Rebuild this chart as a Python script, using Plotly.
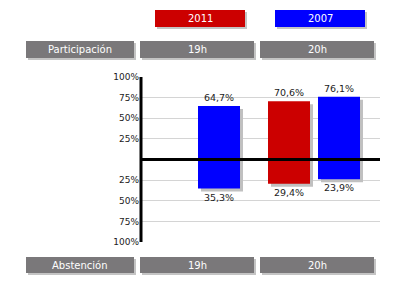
import plotly.graph_objects as go

categories = ["19h", "20h"]
series_names = ["2011", "2007"]
participacion_2011 = [None, 70.6]
abstencion_2011 = [None, 29.4]
participacion_2007 = [64.7, 76.1]
abstencion_2007 = [35.3, 23.9]
tick_values = [100, 75, 50, 25, -25, -50, -75, -100]
tick_labels = ["100%", "75%", "50%", "25%", "25%", "50%", "75%", "100%"]
row_labels = ["Participación", "Abstención"]

colors = {"2011": "#cc0000", "2007": "#0000ff"}
W, H = 400, 300
ML, MR, MT, MB = 140, 20, 77, 58
PW, PH = W - ML - MR, H - MT - MB

px_x = 1.0 / 120  # category units per pixel (240px / 2 categories)
px_y = 200.0 / PH  # data units per pixel
bar_w = 42 * px_x
offsets = {"2011": -25 * px_x - bar_w / 2, "2007": 25 * px_x - bar_w / 2}

def fmt(v):
    return None if v is None else ("%.1f%%" % v).replace(".", ",")

fig = go.Figure()
series = {"2011": (participacion_2011, abstencion_2011), "2007": (participacion_2007, abstencion_2007)}

# shadows
for name in series_names:
    part, abst = series[name]
    for vals, sign in ((part, 1), (abst, -1)):
        ys = [None if v is None else sign * v - 3 * px_y for v in vals]
        fig.add_trace(go.Bar(x=categories, y=ys, base=0, width=bar_w,
                             offset=offsets[name] + 3 * px_x,
                             marker=dict(color="#c0c0c0", line=dict(width=0)),
                             hoverinfo="skip", showlegend=False))
# bars
for name in series_names:
    part, abst = series[name]
    for vals, sign in ((part, 1), (abst, -1)):
        ys = [None if v is None else sign * v for v in vals]
        fig.add_trace(go.Bar(x=categories, y=ys, width=bar_w, offset=offsets[name],
                             marker=dict(color=colors[name], line=dict(width=0)),
                             text=[fmt(v) for v in vals], textposition="outside",
                             textfont=dict(family="DejaVu Sans", size=9.5, color="#222222"),
                             cliponaxis=False, name=name, showlegend=False))

fig.update_layout(
    width=W, height=H, margin=dict(l=ML, r=MR, t=MT, b=MB),
    paper_bgcolor="white", plot_bgcolor="white", barmode="overlay",
    xaxis=dict(type="category", range=[-0.45, 1.55], showticklabels=False,
               showgrid=False, zeroline=False, showline=False),
    yaxis=dict(range=[-100, 100], tickvals=tick_values, ticktext=tick_labels,
               showgrid=True, gridcolor="#d4d4d4", gridwidth=1, zeroline=False,
               showline=False, ticks="", ticklabelstandoff=0,
               tickfont=dict(family="DejaVu Sans", size=9, color="#222222")),
    font=dict(family="DejaVu Sans"),
)

# zero line and vertical axis line on top
fig.add_shape(type="line", xref="paper", yref="y", x0=0, x1=1, y0=0, y1=0,
              line=dict(color="black", width=3), layer="above")
fig.add_shape(type="line", xref="paper", yref="paper", x0=1.0 / PW, x1=1.0 / PW, y0=0, y1=1,
              line=dict(color="black", width=3), layer="above")

def px2paper(x, y):
    return (x - ML) / PW, (H - MB - y) / PH

def box(x0, y0, x1, y1, color, text):
    a0, b1 = px2paper(x0 + 2, y0 + 2)
    a1, b0 = px2paper(x1 + 2, y1 + 2)
    fig.add_shape(type="rect", xref="paper", yref="paper", x0=a0, x1=a1, y0=b0, y1=b1,
                  fillcolor="#c4c4c4", line=dict(width=0), layer="above")
    a0, b1 = px2paper(x0, y0)
    a1, b0 = px2paper(x1, y1)
    fig.add_shape(type="rect", xref="paper", yref="paper", x0=a0, x1=a1, y0=b0, y1=b1,
                  fillcolor=color, line=dict(width=0), layer="above")
    fig.add_annotation(xref="paper", yref="paper", x=(a0 + a1) / 2, y=(b0 + b1) / 2,
                       text=text, showarrow=False, xanchor="center", yanchor="middle",
                       font=dict(family="DejaVu Sans", size=10, color="white"))

gray = "#7a787a"
box(155, 10, 245, 27, colors["2011"], series_names[0])
box(275, 10, 365, 27, colors["2007"], series_names[1])
for (y0, y1), label in (((41, 58), row_labels[0]), ((257, 273), row_labels[1])):
    box(26, y0, 134, y1, gray, label)
    box(140, y0, 254, y1, gray, categories[0])
    box(260, y0, 374, y1, gray, categories[1])

fig.write_html("out.html")
